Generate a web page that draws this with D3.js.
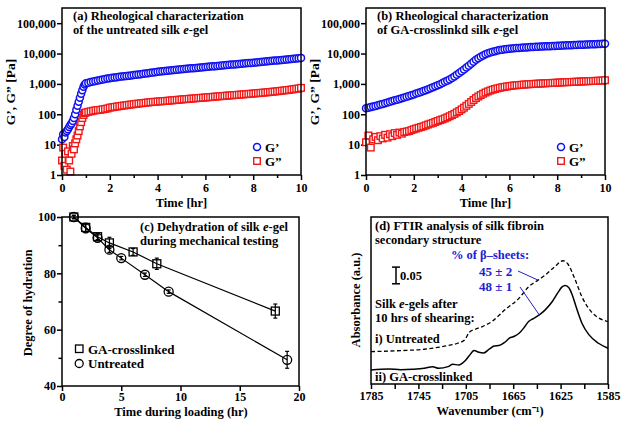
<!DOCTYPE html>
<html><head><meta charset="utf-8">
<script src="https://cdn.jsdelivr.net/npm/d3@7"></script>
<style>
body{margin:0;background:#fff}
svg{display:block}
text{font-family:"Liberation Serif","Times New Roman",serif;font-weight:bold;fill:#000}
</style>
</head><body>
<svg id="c" width="624" height="422"></svg>
<script>
// ---------- Panel (a): untreated silk e-gel ----------
const timeA = [0,0.05,0.1,0.15,0.2,0.25,0.3,0.35,0.4,0.45,0.5,0.55,0.6,0.65,0.7,0.75,0.8,0.85,0.9,0.95,1.0,
 1.1,1.2,1.3,1.4,1.5,1.6,1.7,1.8,1.9,2.0,2.1,2.2,2.3,2.4,2.5,2.6,2.7,2.8,2.9,3.0,
 3.1,3.2,3.3,3.4,3.5,3.6,3.7,3.8,3.9,4.0,4.1,4.2,4.3,4.4,4.5,4.6,4.7,4.8,4.9,5.0,
 5.1,5.2,5.3,5.4,5.5,5.6,5.7,5.8,5.9,6.0,6.1,6.2,6.3,6.4,6.5,6.6,6.7,6.8,6.9,7.0,
 7.1,7.2,7.3,7.4,7.5,7.6,7.7,7.8,7.9,8.0,8.1,8.2,8.3,8.4,8.5,8.6,8.7,8.8,8.9,9.0,
 9.1,9.2,9.3,9.4,9.5,9.6,9.7,9.8,9.9,10.0];
const gPrimeA = [15,22,18,25,28,32,38,44,50,60,75,100,140,190,260,350,470,620,800,950,1050,
 1100,1150,1200,1250,1300,1350,1400,1450,1500,1550,1590,1630,1670,1710,1750,1790,1830,1870,1910,1950,
 2000,2050,2100,2150,2200,2260,2320,2380,2440,2500,2550,2600,2650,2700,2750,2810,2870,2930,2990,3050,
 3100,3150,3200,3250,3300,3360,3420,3480,3540,3600,3660,3720,3780,3840,3900,3970,4040,4110,4180,4250,
 4320,4390,4460,4530,4600,4680,4760,4840,4920,5000,5090,5180,5270,5360,5450,5550,5650,5750,5850,5950,
 6060,6170,6280,6390,6500,6640,6780,6920,7060,7200];
const gDoublePrimeA = [3,8,2,5,1.5,6,3,1.3,5,9,7,11,15,20,28,40,55,75,95,110,115,
 120,125,130,135,138,140,145,150,155,165,170,175,180,185,190,195,200,205,210,215,
 220,225,230,235,240,245,250,255,258,262,266,270,274,278,282,287,292,297,302,307,
 312,317,322,327,332,337,342,347,352,357,362,368,374,380,386,392,398,404,410,416,
 422,428,434,440,446,453,460,467,474,482,490,498,506,514,522,532,542,552,562,572,
 585,598,611,624,637,655,673,691,709,740];

// ---------- Panel (b): GA-crosslinked silk e-gel ----------
const timeB = [0,0.1,0.2,0.3,0.4,0.5,0.6,0.7,0.8,0.9,1.0,1.1,1.2,1.3,1.4,1.5,1.6,1.7,1.8,1.9,2.0,
 2.1,2.2,2.3,2.4,2.5,2.6,2.7,2.8,2.9,3.0,3.1,3.2,3.3,3.4,3.5,3.6,3.7,3.8,3.9,4.0,
 4.1,4.2,4.3,4.4,4.5,4.6,4.7,4.8,4.9,5.0,5.1,5.2,5.3,5.4,5.5,5.6,5.7,5.8,5.9,6.0,
 6.1,6.2,6.3,6.4,6.5,6.6,6.7,6.8,6.9,7.0,7.1,7.2,7.3,7.4,7.5,7.6,7.7,7.8,7.9,8.0,
 8.1,8.2,8.3,8.4,8.5,8.6,8.7,8.8,8.9,9.0,9.1,9.2,9.3,9.4,9.5,9.6,9.7,9.8,9.9,10.0];
const gPrimeB = [158,165,172,180,189,198,208,219,231,244,258,272,287,303,320,338,357,377,400,424,450,
 480,512,545,580,620,665,715,770,830,900,980,1070,1170,1280,1400,1560,1760,2000,2280,2600,
 3000,3450,3950,4600,5400,6200,7000,7800,8700,9500,10200,10800,11400,12000,12500,13000,13400,13800,14200,14500,
 14700,14900,15100,15300,15500,15700,15900,16100,16300,16500,16650,16800,16950,17100,17250,17400,17550,17700,17850,18000,
 18150,18300,18450,18600,18750,18900,19050,19200,19350,19500,19650,19800,19950,20100,20250,20400,20550,20700,20850,21000];
const gDoublePrimeB = [12,20,8,15,18,14,19,16,21,17,22,19,24,21,25,23,26,27,28,30,32,
 34,36,38,40,43,46,49,52,56,60,64,68,73,79,86,94,103,115,128,145,
 165,190,220,255,295,340,385,430,475,520,565,605,645,680,715,745,775,800,825,850,
 870,890,905,920,935,950,962,975,987,1000,1010,1020,1030,1040,1050,1060,1070,1080,1090,1100,
 1110,1120,1130,1140,1150,1160,1170,1180,1190,1200,1210,1220,1230,1240,1250,1260,1270,1280,1290,1320];
const logTicks = [1,10,100,1000,10000,100000];
const timeTicks = [0,1,2,3,4,5,6,7,8,9,10];

// ---------- Panel (c): dehydration ----------
const gaTime = [1,2,3,4,6,8,18];
const gaHydration = [100,96.3,93,90.8,87.6,83.4,66.6];
const gaError = [0.6,1.5,1,2,1.2,2,2.5];
const unTime = [1,2,3,4,5,7,9,19];
const unHydration = [100,96,92.6,88.4,85.4,79.5,73.5,49.3];
const unError = [0.6,1.5,1,1,0.6,0.6,0.6,3];
const hydXTicks = [0,5,10,15,20];
const hydYTicks = [40,50,60,70,80,90,100];

// ---------- Panel (d): FTIR ----------
const wnGA = [1785,1770,1760,1750,1740,1733,1728,1720,1716,1711,1706,1702,1698,1694,1690,1685,1681,1677,1672,1668,1664,1660,1656,1652,1648,1643,1638,1632,1627,1624,1621,1618,1615,1612,1607,1601,1593,1585];
const absGA = [0.042,0.045,0.043,0.044,0.047,0.052,0.047,0.052,0.059,0.057,0.068,0.085,0.100,0.095,0.093,0.105,0.114,0.115,0.125,0.138,0.143,0.152,0.168,0.187,0.196,0.207,0.222,0.247,0.275,0.290,0.295,0.288,0.265,0.232,0.182,0.147,0.122,0.107];
const wnUn = [1785,1760,1740,1722,1712,1706,1702,1697,1691,1683,1672,1660,1652,1644,1638,1630,1623,1619,1613,1607,1599,1585];
const absUn = [0.097,0.100,0.104,0.114,0.122,0.132,0.155,0.164,0.172,0.187,0.222,0.257,0.291,0.311,0.326,0.351,0.369,0.360,0.315,0.261,0.216,0.187];
const wnTicks = [1785,1765,1745,1725,1705,1685,1665,1645,1625,1605,1585];

const BLUE = "#1010f0", RED = "#f01818", TXT_BLUE = "#2020d0";
const svg = d3.select("#c");
svg.append("rect").attr("width",624).attr("height",422).attr("fill","#fff");

function styleAxis(g){
  g.select(".domain").remove();
  g.selectAll(".tick line").attr("stroke","#000").attr("stroke-width",1.5);
  g.selectAll(".tick text").style("font-size","12px").style("font-family",'"Liberation Serif",serif').style("font-weight","bold").attr("fill","#000");
}
function frame(x0,y0,x1,y1){
  svg.append("rect").attr("x",x0).attr("y",y0).attr("width",x1-x0).attr("height",y1-y0)
    .attr("fill","none").attr("stroke","#000").attr("stroke-width",1.5);
}
function title(x,y,lines,size){
  const t = svg.append("text").attr("x",x).attr("y",y).style("font-size",size+"px");
  lines.forEach((ln,i)=>{
    const ts = t.append("tspan").attr("x",x).attr("dy", i===0?0:size*1.1);
    ln.forEach(part=>{
      ts.append("tspan").text(part.t).style("font-style",part.i?"italic":"normal");
    });
  });
}

function rheo(x0,x1,times,gp,gpp,titleLines,ylabX){
  const top=8,bottom=175;
  const x = d3.scaleLinear().domain([0,10]).range([x0,x1]);
  const y = d3.scaleLog().domain([1,Math.pow(10,5.5)]).range([bottom,top]);
  const gx = svg.append("g").attr("transform",`translate(0,${bottom})`)
    .call(d3.axisBottom(x).tickValues(timeTicks).tickSize(5).tickPadding(3).tickFormat(d=>d%2===0?d:""));
  styleAxis(gx);
  gx.selectAll(".tick line").attr("y2",d=>d%2===0?5:3);
  const gy = svg.append("g").attr("transform",`translate(${x0},0)`)
    .call(d3.axisLeft(y).tickValues(logTicks).tickSize(5).tickPadding(1).tickFormat(d3.format(",")));
  styleAxis(gy);
  // data
  svg.append("g").selectAll("rect").data(times).join("rect")
    .attr("x",(d,i)=>x(d)-3.3).attr("y",(d,i)=>y(gpp[i])-3.3).attr("width",6.6).attr("height",6.6)
    .attr("fill","#fff").attr("stroke",RED).attr("stroke-width",1.4);
  svg.append("g").selectAll("circle").data(times).join("circle")
    .attr("cx",d=>x(d)).attr("cy",(d,i)=>y(gp[i])).attr("r",3.5)
    .attr("fill","#fff").attr("stroke",BLUE).attr("stroke-width",1.5);
  frame(x0,top,x1,bottom);
  title(x0+11,20,titleLines,12.5);
  // legend
  const lx = x0+195;
  svg.append("circle").attr("cx",lx).attr("cy",147).attr("r",3.5).attr("fill","#fff").attr("stroke",BLUE).attr("stroke-width",1.5);
  svg.append("rect").attr("x",lx-3.3).attr("y",161-3.3).attr("width",6.6).attr("height",6.6).attr("fill","#fff").attr("stroke",RED).attr("stroke-width",1.4);
  svg.append("text").attr("x",lx+8).attr("y",151.5).style("font-size","13px").text("G\u2019");
  svg.append("text").attr("x",lx+8).attr("y",165.5).style("font-size","13px").text("G\u201D");
  svg.append("text").attr("transform",`translate(${ylabX},92) rotate(-90)`).attr("text-anchor","middle")
    .style("font-size","13.5px").text("G\u2019, G\u201D [Pa]");
  svg.append("text").attr("x",(x0+x1)/2).attr("y",207).attr("text-anchor","middle").style("font-size","12.5px").text("Time [hr]");
}

rheo(62,301,timeA,gPrimeA,gDoublePrimeA,
  [[{t:"(a) Rheological characterization"}],[{t:"of the untreated silk "},{t:"e",i:true},{t:"-gel"}]],15);
rheo(366,605,timeB,gPrimeB,gDoublePrimeB,
  [[{t:"(b) Rheological characterization"}],[{t:"of GA-crosslinkd silk "},{t:"e",i:true},{t:"-gel"}]],319);

// ---------- Panel (c) ----------
(function(){
  const x0=62,x1=299,top=217,bottom=386;
  const x = d3.scaleLinear().domain([0,20]).range([x0,x1]);
  const y = d3.scaleLinear().domain([40,100]).range([bottom,top]);
  const gx = svg.append("g").attr("transform",`translate(0,${bottom})`)
    .call(d3.axisBottom(x).tickValues(hydXTicks).tickSize(5).tickPadding(1.5));
  styleAxis(gx);
  const gy = svg.append("g").attr("transform",`translate(${x0},0)`)
    .call(d3.axisLeft(y).tickValues(hydYTicks).tickSize(5).tickPadding(1).tickFormat(d=>d%20===0?d:""));
  styleAxis(gy);
  gy.selectAll(".tick line").attr("x2",d=>d%20===0?-5:-3.5);
  const line = d3.line().x(d=>x(d[0])).y(d=>y(d[1]));
  const series = [
    {t:gaTime,h:gaHydration,e:gaError,shape:"sq"},
    {t:unTime,h:unHydration,e:unError,shape:"ci"}];
  series.forEach(s=>{
    const pts = s.t.map((t,i)=>[t,s.h[i],s.e[i]]);
    svg.append("path").datum(pts).attr("d",line).attr("fill","none").attr("stroke","#000").attr("stroke-width",1.2);
    const g = svg.append("g");
    pts.forEach(p=>{
      g.append("line").attr("x1",x(p[0])).attr("x2",x(p[0])).attr("y1",y(p[1]-p[2])).attr("y2",y(p[1]+p[2])).attr("stroke","#000").attr("stroke-width",1.2);
      [p[1]-p[2],p[1]+p[2]].forEach(v=>g.append("line").attr("x1",x(p[0])-2).attr("x2",x(p[0])+2).attr("y1",y(v)).attr("y2",y(v)).attr("stroke","#000").attr("stroke-width",1.2));
      if(s.shape==="sq") g.append("rect").attr("x",x(p[0])-4).attr("y",y(p[1])-4).attr("width",8).attr("height",8).attr("fill","none").attr("stroke","#000").attr("stroke-width",1.3);
      else g.append("circle").attr("cx",x(p[0])).attr("cy",y(p[1])).attr("r",4.5).attr("fill","none").attr("stroke","#000").attr("stroke-width",1.3);
    });
  });
  frame(x0,top,x1,bottom);
  title(140,231,[[{t:"(c) Dehydration of silk "},{t:"e",i:true},{t:"-gel"}],[{t:"during mechanical testing"}]],12.5);
  svg.append("rect").attr("x",75.5).attr("y",345).attr("width",7.5).attr("height",7.5).attr("fill","none").attr("stroke","#000").attr("stroke-width",1.3);
  svg.append("circle").attr("cx",79.2).attr("cy",363.5).attr("r",4).attr("fill","none").attr("stroke","#000").attr("stroke-width",1.3);
  svg.append("text").attr("x",88).attr("y",353.5).style("font-size","13px").text("GA-crosslinked");
  svg.append("text").attr("x",88).attr("y",368).style("font-size","13px").text("Untreated");
  svg.append("text").attr("transform","translate(32,303) rotate(-90)").attr("text-anchor","middle").style("font-size","12.5px").text("Degree of hydration");
  svg.append("text").attr("x",181).attr("y",416).attr("text-anchor","middle").style("font-size","12.5px").text("Time during loading (hr)");
})();

// ---------- Panel (d) ----------
(function(){
  const x0=371,x1=608,top=217,bottom=384;
  const x = d3.scaleLinear().domain([1785,1585]).range([x0,x1]);
  const y = d3.scaleLinear().domain([0,0.5]).range([bottom,top]);
  const gx = svg.append("g").attr("transform",`translate(0,${bottom})`)
    .call(d3.axisBottom(x).tickValues(wnTicks).tickSize(5).tickPadding(2.5).tickFormat(d=>(1785-d)%40===0?d:""));
  styleAxis(gx);
  const line = d3.line().x(d=>x(d[0])).y(d=>y(d[1])).curve(d3.curveMonotoneX);
  svg.append("path").datum(wnUn.map((w,i)=>[w,absUn[i]])).attr("d",line).attr("fill","none")
    .attr("stroke","#000").attr("stroke-width",1.3).attr("stroke-dasharray","4,2.5");
  svg.append("path").datum(wnGA.map((w,i)=>[w,absGA[i]])).attr("d",line).attr("fill","none")
    .attr("stroke","#000").attr("stroke-width",1.5);
  frame(x0,top,x1,bottom);
  title(375,230,[[{t:"(d) FTIR analysis of silk fibroin"}],[{t:"secondary structure"}]],12.5);
  svg.append("text").attr("x",490).attr("y",259).attr("text-anchor","middle").style("font-size","12.5px").style("fill",TXT_BLUE).text("% of \u03B2\u2013sheets:");
  svg.append("text").attr("x",479).attr("y",276).style("font-size","13px").style("fill",TXT_BLUE).text("45 \u00B1 2");
  svg.append("text").attr("x",479).attr("y",291).style("font-size","13px").style("fill",TXT_BLUE).text("48 \u00B1 1");
  svg.append("line").attr("x1",518).attr("y1",271).attr("x2",x(1644)).attr("y2",y(0.311)).attr("stroke",TXT_BLUE).attr("stroke-width",1);
  svg.append("line").attr("x1",520).attr("y1",287).attr("x2",x(1643)).attr("y2",y(0.207)).attr("stroke",TXT_BLUE).attr("stroke-width",1);
  // scale bar 0.05
  const sbx=396;
  svg.append("line").attr("x1",sbx).attr("x2",sbx).attr("y1",y(0.35)).attr("y2",y(0.30)).attr("stroke","#000").attr("stroke-width",1.5);
  [0.35,0.30].forEach(v=>svg.append("line").attr("x1",sbx-4).attr("x2",sbx+4).attr("y1",y(v)).attr("y2",y(v)).attr("stroke","#000").attr("stroke-width",1.5));
  svg.append("text").attr("x",400).attr("y",280).style("font-size","12.5px").text("0.05");
  title(375,308,[[{t:"Silk "},{t:"e",i:true},{t:"-gels  after"}],[{t:"10 hrs of shearing:"}]],12.5);
  svg.append("text").attr("x",375).attr("y",343).style("font-size","12.5px").text("i) Untreated");
  svg.append("text").attr("x",375).attr("y",381).style("font-size","12.5px").text("ii) GA-crosslinked");
  svg.append("text").attr("transform","translate(360,300) rotate(-90)").attr("text-anchor","middle").style("font-size","12.5px").text("Absorbance (a.u.)");
  svg.append("text").attr("x",490).attr("y",415).attr("text-anchor","middle").style("font-size","12.5px").text("Wavenumber (cm\u207B\u00B9)");
})();
</script>
</body></html>
